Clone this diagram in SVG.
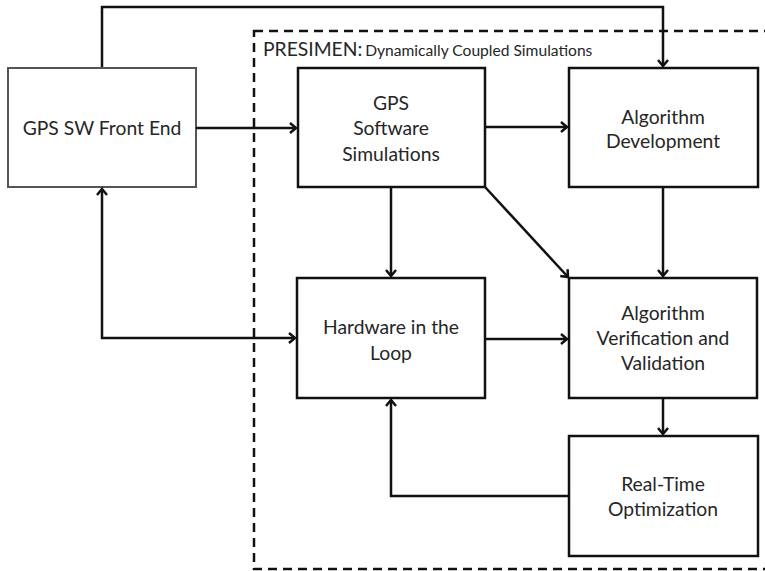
<svg xmlns="http://www.w3.org/2000/svg" width="765" height="571" viewBox="0 0 765 571">
  <style>
    .box { fill: #ffffff; stroke: #111111; stroke-width: 2.5; }
    .ext { fill: #ffffff; stroke: #555555; stroke-width: 2; }
    .lbl { font-family: Lato, "Liberation Sans", sans-serif; font-size: 19.3px; fill: #262626; text-anchor: middle; }
    .wire { fill: none; stroke: #111111; stroke-width: 2.5; }
    .frame { fill: none; stroke: #111111; stroke-width: 2.5; stroke-dasharray: 9 6; }
  </style>
  <defs>
    <marker id="arrow" markerUnits="userSpaceOnUse" markerWidth="14" markerHeight="14" refX="9" refY="6" orient="auto-start-reverse">
      <path d="M3,1 L9,6 L3,11" fill="none" stroke="#111111" stroke-width="2.5"/>
    </marker>
  </defs>

  <rect width="765" height="571" fill="#ffffff"/>

  <!-- coupled-simulation boundary -->
  <g id="presimen">
    <rect class="frame" x="254" y="31" width="530" height="538"/>
    <text x="263" y="56" font-family="Lato, 'Liberation Sans', sans-serif" fill="#262626"><tspan font-size="19.3">PRESIMEN:</tspan><tspan font-size="15.6" dx="3">Dynamically Coupled Simulations</tspan></text>
  </g>

  <g id="front-end">
    <rect class="ext" x="8" y="68" width="188" height="119"/>
    <text class="lbl" x="102" y="135">GPS SW Front End</text>
  </g>

  <g id="gps-sim">
    <rect class="box" x="298" y="68" width="187" height="119"/>
    <text class="lbl" x="391" y="110">GPS</text>
    <text class="lbl" x="391" y="135">Software</text>
    <text class="lbl" x="391" y="161">Simulations</text>
  </g>

  <g id="alg-dev">
    <rect class="box" x="569" y="68" width="189" height="119"/>
    <text class="lbl" x="663" y="124">Algorithm</text>
    <text class="lbl" x="663" y="148">Development</text>
  </g>

  <g id="hil">
    <rect class="box" x="297" y="278" width="188" height="120"/>
    <text class="lbl" x="391" y="334">Hardware in the</text>
    <text class="lbl" x="391" y="360">Loop</text>
  </g>

  <g id="alg-vv">
    <rect class="box" x="569" y="278" width="188" height="120"/>
    <text class="lbl" x="663" y="320">Algorithm</text>
    <text class="lbl" x="663" y="345">Verification and</text>
    <text class="lbl" x="663" y="370">Validation</text>
  </g>

  <g id="rto">
    <rect class="box" x="569" y="436" width="189" height="120"/>
    <text class="lbl" x="663" y="491">Real-Time</text>
    <text class="lbl" x="663" y="516">Optimization</text>
  </g>

  <g id="connectors">
    <path class="wire" d="M102,67 V7 H663 V66" marker-end="url(#arrow)"/>
    <path class="wire" d="M196,128 H296" marker-end="url(#arrow)"/>
    <path class="wire" d="M485,127 H567" marker-end="url(#arrow)"/>
    <path class="wire" d="M391,187 V276" marker-end="url(#arrow)"/>
    <path class="wire" d="M485,187 L568,277" marker-end="url(#arrow)"/>
    <path class="wire" d="M663,187 V276" marker-end="url(#arrow)"/>
    <path class="wire" d="M485,339 H567" marker-end="url(#arrow)"/>
    <path class="wire" d="M663,398 V434" marker-end="url(#arrow)"/>
    <path class="wire" d="M569,496 H391 V400" marker-end="url(#arrow)"/>
    <path class="wire" d="M102,189 V338 H295" marker-start="url(#arrow)" marker-end="url(#arrow)"/>
  </g>
</svg>
